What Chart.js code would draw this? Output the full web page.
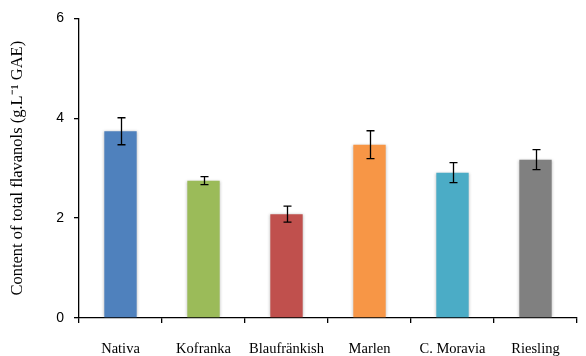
<!DOCTYPE html>
<html>
<head>
<meta charset="utf-8">
<script src="https://cdn.jsdelivr.net/npm/chart.js@4"></script>
<style>
  html, body { margin: 0; padding: 0; background: #fff; }
  #wrap { width: 586px; height: 356px; }
</style>
</head>
<body>
<div id="wrap"><canvas id="flavanolChart" width="586" height="356"></canvas></div>
<script>
const varieties = ['Nativa', 'Kofranka', 'Blaufränkish', 'Marlen', 'C. Moravia', 'Riesling'];
const flavanols = [3.74, 2.75, 2.08, 3.47, 2.91, 3.17];
const errors = [0.27, 0.08, 0.16, 0.28, 0.20, 0.20];
const barColors = ['#4F81BD', '#9BBB59', '#C0504D', '#F79646', '#4BACC6', '#808080'];
const yTicks = [0, 2, 4, 6];

// soft grey halo round the bars, as in the office-style original
const barGlow = {
    id: 'barGlow',
    beforeDatasetsDraw(chart) {
        const ctx = chart.ctx;
        ctx.save();
        ctx.shadowColor = 'rgba(0, 0, 0, 0.28)';
        ctx.shadowBlur = 3;
    },
    afterDatasetsDraw(chart) {
        chart.ctx.restore();
    }
};

const errorBars = {
    id: 'errorBars',
    afterDatasetsDraw(chart) {
        const ctx = chart.ctx;
        const y = chart.scales.y;
        const meta = chart.getDatasetMeta(0);
        ctx.save();
        ctx.strokeStyle = '#000';
        ctx.lineWidth = 1.3;
        meta.data.forEach((bar, i) => {
            const top = y.getPixelForValue(flavanols[i] + errors[i]);
            const bot = y.getPixelForValue(flavanols[i] - errors[i]);
            const x = Math.round(bar.x) + 0.5;
            ctx.beginPath();
            ctx.moveTo(x, top); ctx.lineTo(x, bot);
            ctx.moveTo(x - 4, top); ctx.lineTo(x + 4, top);
            ctx.moveTo(x - 4, bot); ctx.lineTo(x + 4, bot);
            ctx.stroke();
        });
        ctx.restore();
    }
};

const ctx = document.getElementById('flavanolChart').getContext('2d');
new Chart(ctx, {
    type: 'bar',
    data: {
        labels: varieties,
        datasets: [{
            data: flavanols,
            backgroundColor: barColors,
            borderWidth: 0,
            barPercentage: 0.39,
            categoryPercentage: 1
        }]
    },
    options: {
        responsive: false,
        animation: false,
        events: [],
        layout: { padding: { top: 16, right: 9, left: 0, bottom: 0 } },
        plugins: {
            legend: { display: false },
            tooltip: { enabled: false }
        },
        scales: {
            x: {
                afterFit(scale) { scale.height = 38; },
                border: { color: '#000', width: 1.3 },
                grid: { drawOnChartArea: false, color: '#000', tickLength: 5, lineWidth: 1.3, offset: true },
                ticks: {
                    color: '#000',
                    padding: 17,
                    font: { family: '"Liberation Serif", "Times New Roman", serif', size: 14.5 }
                }
            },
            y: {
                min: 0,
                max: 6,
                afterFit(scale) { scale.width = 79; },
                afterBuildTicks(scale) { scale.ticks = yTicks.map(v => ({ value: v })); },
                border: { color: '#000', width: 1.3 },
                grid: { drawOnChartArea: false, color: '#000', tickLength: 5, lineWidth: 1.3 },
                ticks: {
                    color: '#000',
                    padding: 10,
                    font: { family: '"Liberation Sans", Arial, sans-serif', size: 14 }
                },
                title: {
                    display: true,
                    text: 'Content of total flavanols (g.L⁻¹ GAE)',
                    color: '#000',
                    padding: { top: 8, bottom: 0 },
                    font: { family: '"Liberation Serif", "Times New Roman", serif', size: 16.5 }
                }
            }
        }
    },
    plugins: [barGlow, errorBars]
});
</script>
</body>
</html>
